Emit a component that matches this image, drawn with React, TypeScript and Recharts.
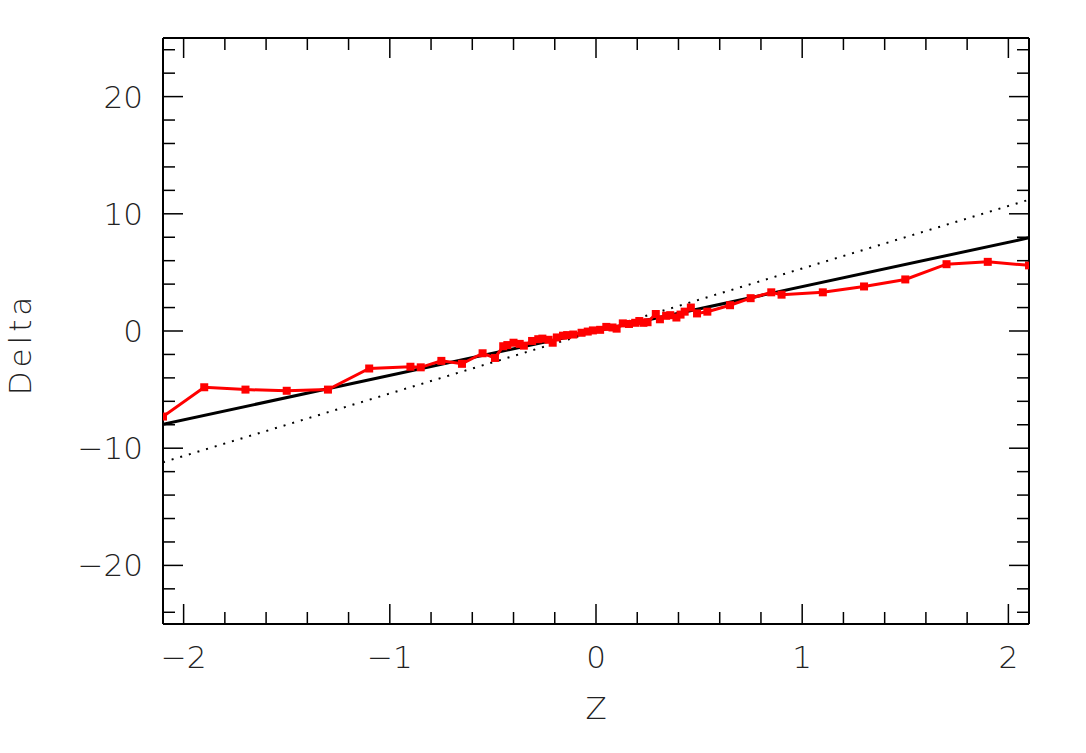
import React from 'react';
import { ComposedChart, Line, XAxis, YAxis } from 'recharts';

// red measured curve
const zValues = [
  -2.1, -1.9, -1.7, -1.5, -1.3, -1.1, -0.9, -0.85, -0.75, -0.65, -0.55, -0.49,
  -0.45, -0.43, -0.4, -0.37, -0.35, -0.31, -0.28, -0.26, -0.23, -0.21, -0.19,
  -0.16, -0.14, -0.11, -0.07, -0.04, -0.015, 0.02, 0.05, 0.08, 0.1, 0.13, 0.16,
  0.19, 0.21, 0.23, 0.25, 0.29, 0.31, 0.34, 0.36, 0.39, 0.41, 0.43, 0.46, 0.49,
  0.54, 0.65, 0.75, 0.85, 0.9, 1.1, 1.3, 1.5, 1.7, 1.9, 2.1,
];
const deltaValues = [
  -7.3, -4.8, -5.0, -5.1, -5.0, -3.2, -3.05, -3.1, -2.55, -2.8, -1.9, -2.3,
  -1.3, -1.2, -1.0, -1.1, -1.25, -0.85, -0.7, -0.65, -0.75, -1.0, -0.55,
  -0.4, -0.35, -0.3, -0.15, -0.05, 0.05, 0.1, 0.35, 0.3, 0.2, 0.65, 0.6,
  0.7, 0.85, 0.7, 0.75, 1.45, 1.0, 1.3, 1.35, 1.15, 1.4, 1.65, 2.0, 1.5,
  1.65, 2.2, 2.8, 3.3, 3.1, 3.3, 3.8, 4.4, 5.7, 5.9, 5.6,
];

// straight reference lines (end points)
const lineZ = [-2.1, 2.1];
const fitDelta = [-7.95, 7.95];
const dottedDelta = [-11.2, 11.2];

// ticks
const xTicks = [
  -2, -1.8, -1.6, -1.4, -1.2, -1, -0.8, -0.6, -0.4, -0.2, 0,
  0.2, 0.4, 0.6, 0.8, 1, 1.2, 1.4, 1.6, 1.8, 2,
];
const yTicks = [
  -24, -22, -20, -18, -16, -14, -12, -10, -8, -6, -4, -2, 0,
  2, 4, 6, 8, 10, 12, 14, 16, 18, 20, 22, 24,
];
const xMajor = [-2, -1, 0, 1, 2];
const yMajor = [-20, -10, 0, 10, 20];

const redData = zValues.map((z, i) => ({ z, delta: deltaValues[i] }));
const fitData = lineZ.map((z, i) => ({ z, delta: fitDelta[i] }));
const dottedData = lineZ.map((z, i) => ({ z, delta: dottedDelta[i] }));

const FONT = '"DejaVu Sans", sans-serif';
const TEXT_WEIGHT = 200;
const MAJOR = 20;
const MINOR = 12;
const fmt = (v: number) => (v < 0 ? '\u2212' + Math.abs(v) : String(v));

const isMajor = (list: number[], v: number) => list.some((m) => Math.abs(m - v) < 1e-6);

// ticks drawn inwards from the frame
const makeTick = (side: 'left' | 'right' | 'top' | 'bottom') => (props: any) => {
  const { x, y, payload } = props;
  const v = payload.value;
  const major = isMajor(side === 'left' || side === 'right' ? yMajor : xMajor, v);
  const len = major ? MAJOR : MINOR;
  let line;
  if (side === 'left') line = <line x1={x} y1={y} x2={x + len} y2={y} stroke="#000" strokeWidth={1.5} />;
  else if (side === 'right') line = <line x1={x} y1={y} x2={x - len} y2={y} stroke="#000" strokeWidth={1.5} />;
  else if (side === 'bottom') line = <line x1={x} y1={y} x2={x} y2={y - len} stroke="#000" strokeWidth={1.5} />;
  else line = <line x1={x} y1={y} x2={x} y2={y + len} stroke="#000" strokeWidth={1.5} />;
  return (
    <g>
      {line}
      {major && side === 'left' && (
        <text x={x - 20} y={y} dy={11} textAnchor="end" fontSize={31} fontFamily={FONT} fontWeight={TEXT_WEIGHT} fill="#222">
          {fmt(v)}
        </text>
      )}
      {major && side === 'bottom' && (
        <text x={x} y={y + 33} dy={11} textAnchor="middle" fontSize={31} fontFamily={FONT} fontWeight={TEXT_WEIGHT} fill="#222">
          {fmt(v)}
        </text>
      )}
    </g>
  );
};

const SquareDot = (props: any) => {
  const { cx, cy } = props;
  if (cx == null || cy == null) return null;
  return <rect x={cx - 4} y={cy - 4} width={8} height={8} fill="#ff0000" />;
};

export default function App() {
  const axisLine = { stroke: '#000', strokeWidth: 2 };
  return (
    <div style={{ position: 'absolute', left: 0, top: 0, width: 1086, height: 753, background: '#fff' }}>
      <ComposedChart width={1086} height={753} margin={{ top: 37, right: 56, bottom: 128, left: 162 }}>
        <XAxis
          xAxisId="b"
          dataKey="z"
          type="number"
          domain={[-2.1, 2.1]}
          ticks={xTicks}
          interval={0}
          height={1}
          tickSize={0}
          tickMargin={0}
          tickLine={false}
          axisLine={axisLine}
          tick={makeTick('bottom')}
          allowDataOverflow
        />
        <XAxis
          xAxisId="t"
          orientation="top"
          dataKey="z"
          type="number"
          domain={[-2.1, 2.1]}
          ticks={xTicks}
          interval={0}
          height={1}
          tickSize={0}
          tickMargin={0}
          tickLine={false}
          axisLine={axisLine}
          tick={makeTick('top')}
          allowDataOverflow
        />
        <YAxis
          yAxisId="l"
          type="number"
          domain={[-25, 25]}
          ticks={yTicks}
          interval={0}
          width={1}
          tickSize={0}
          tickMargin={0}
          tickLine={false}
          axisLine={axisLine}
          tick={makeTick('left')}
          allowDataOverflow
        />
        <YAxis
          yAxisId="r"
          orientation="right"
          type="number"
          domain={[-25, 25]}
          ticks={yTicks}
          interval={0}
          width={1}
          tickSize={0}
          tickMargin={0}
          tickLine={false}
          axisLine={axisLine}
          tick={makeTick('right')}
          allowDataOverflow
        />
        <Line
          xAxisId="t"
          yAxisId="r"
          data={dottedData}
          dataKey="delta"
          stroke="#000"
          strokeWidth={2}
          strokeDasharray="2 7"
          dot={false}
          isAnimationActive={false}
        />
        <Line
          xAxisId="b"
          yAxisId="l"
          data={fitData}
          dataKey="delta"
          stroke="#000"
          strokeWidth={3}
          dot={false}
          isAnimationActive={false}
        />
        <Line
          xAxisId="b"
          yAxisId="l"
          data={redData}
          dataKey="delta"
          stroke="#ff0000"
          strokeWidth={3}
          dot={<SquareDot />}
          isAnimationActive={false}
        />
      </ComposedChart>
      <div
        style={{
          position: 'absolute', left: 596, top: 708, transform: 'translate(-50%, -50%)',
          fontFamily: FONT, fontSize: 31, fontWeight: TEXT_WEIGHT, color: '#222',
        }}
      >
        Z
      </div>
      <div
        style={{
          position: 'absolute', left: 20, top: 344, transform: 'translate(-50%, -50%) rotate(-90deg)',
          fontFamily: FONT, fontSize: 31, fontWeight: TEXT_WEIGHT, color: '#222', letterSpacing: 4, whiteSpace: 'nowrap',
        }}
      >
        Delta
      </div>
    </div>
  );
}
